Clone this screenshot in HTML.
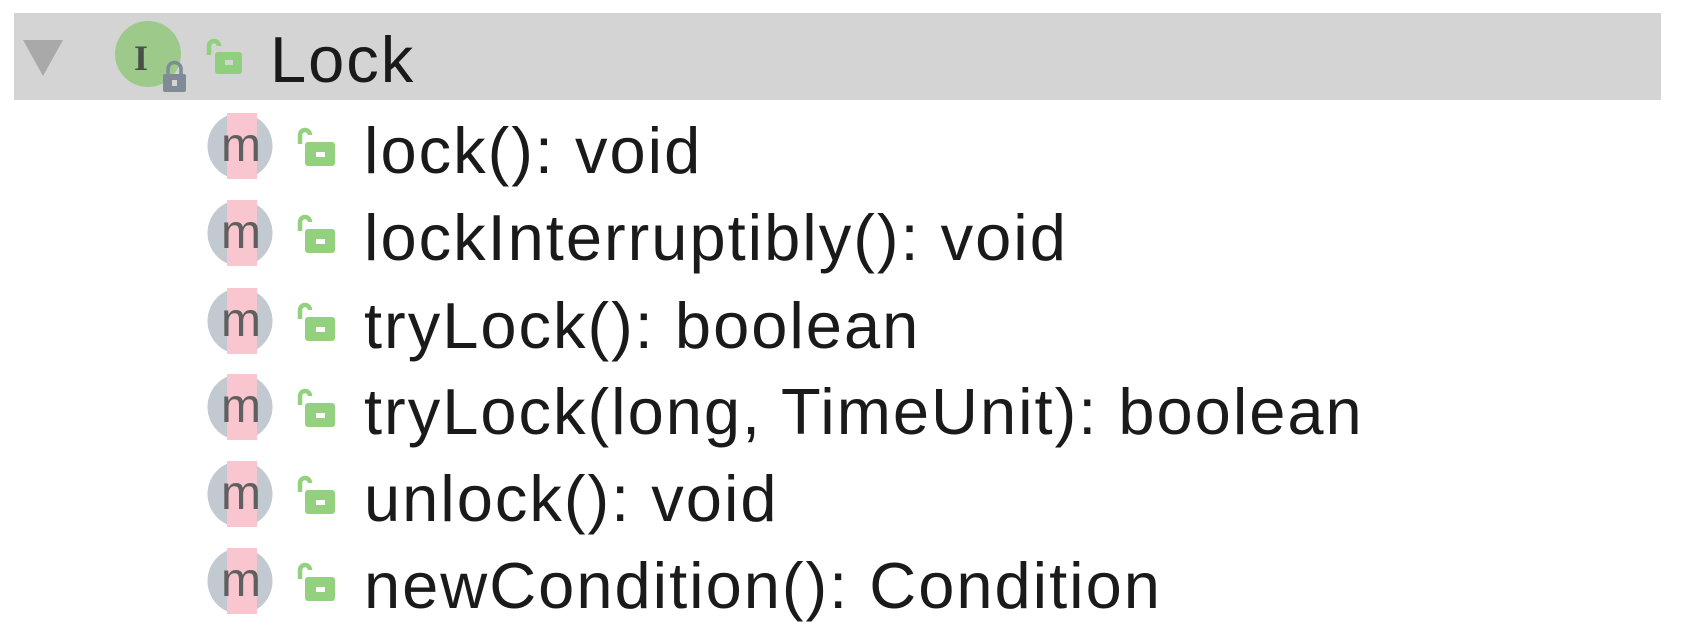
<!DOCTYPE html>
<html><head><meta charset="utf-8"><style>
html,body{margin:0;padding:0;background:#fff;width:1682px;height:628px;overflow:hidden;position:relative;font-family:"Liberation Sans",sans-serif;}
.bar{position:absolute;left:14px;top:13px;width:1647px;height:87px;background:#d4d4d4;}
.t{position:absolute;font-size:65px;color:#1a1a1a;line-height:1;white-space:nowrap;letter-spacing:2px;}
svg{position:absolute;left:0;top:0;}
</style></head><body>
<div class="bar"></div>
<svg width="1682" height="628">
  <polygon points="23,40 63,40 43,76" fill="#a9a9a9"/>
  <circle cx="148" cy="54" r="33" fill="#9dca8b"/>
  <text x="141" y="70" font-family="Liberation Serif,serif" font-weight="bold" font-size="36" fill="#4a4f47" text-anchor="middle">I</text>
  <rect x="163" y="74" width="23" height="18" rx="2" fill="#7f8c98"/>
  <path d="M168,75 v-6 a6.5,6.5 0 0 1 13,0 v6" fill="none" stroke="#7f8c98" stroke-width="3.5"/>
  <rect x="172" y="80" width="5" height="6" fill="#d4d4d4"/>
  <path d="M209,55 v-9 a5,5 0 0 1 10,0" fill="none" stroke="#8fcf7d" stroke-width="4.5"/>
  <rect x="215" y="52" width="27" height="22" rx="3" fill="#8fcf7d"/>
  <rect x="225" y="60" width="8" height="5" fill="#d4d4d4"/>
  <defs>
    <g id="mi">
      <ellipse cx="0" cy="0" rx="32.5" ry="33" fill="#c3c9d0"/>
      <rect x="-13" y="-33" width="30" height="66" fill="#f9c6d0"/>
      <text x="1" y="15" font-family="Liberation Sans,sans-serif" font-size="48" fill="#5f5f5f" text-anchor="middle">m</text>
      <path d="M60,-2 v-9 a5,5 0 0 1 10,0" fill="none" stroke="#93d17f" stroke-width="4.5"/>
      <rect x="65" y="-4" width="30" height="24" rx="3" fill="#93d17f"/>
      <rect x="76" y="6" width="9" height="5" fill="#fff"/>
    </g>
  </defs>
  <use href="#mi" x="240" y="146"/>
  <use href="#mi" x="240" y="233"/>
  <use href="#mi" x="240" y="321"/>
  <use href="#mi" x="240" y="407"/>
  <use href="#mi" x="240" y="494"/>
  <use href="#mi" x="240" y="581"/>
</svg>
<div class="t" style="left:270px;top:27px;">Lock</div>
<div class="t" style="left:364px;top:118px;">lock(): void</div>
<div class="t" style="left:364px;top:205px;">lockInterruptibly(): void</div>
<div class="t" style="left:364px;top:293px;">tryLock(): boolean</div>
<div class="t" style="left:364px;top:379px;">tryLock(long, TimeUnit): boolean</div>
<div class="t" style="left:364px;top:466px;">unlock(): void</div>
<div class="t" style="left:364px;top:553px;">newCondition(): Condition</div>
</body></html>
